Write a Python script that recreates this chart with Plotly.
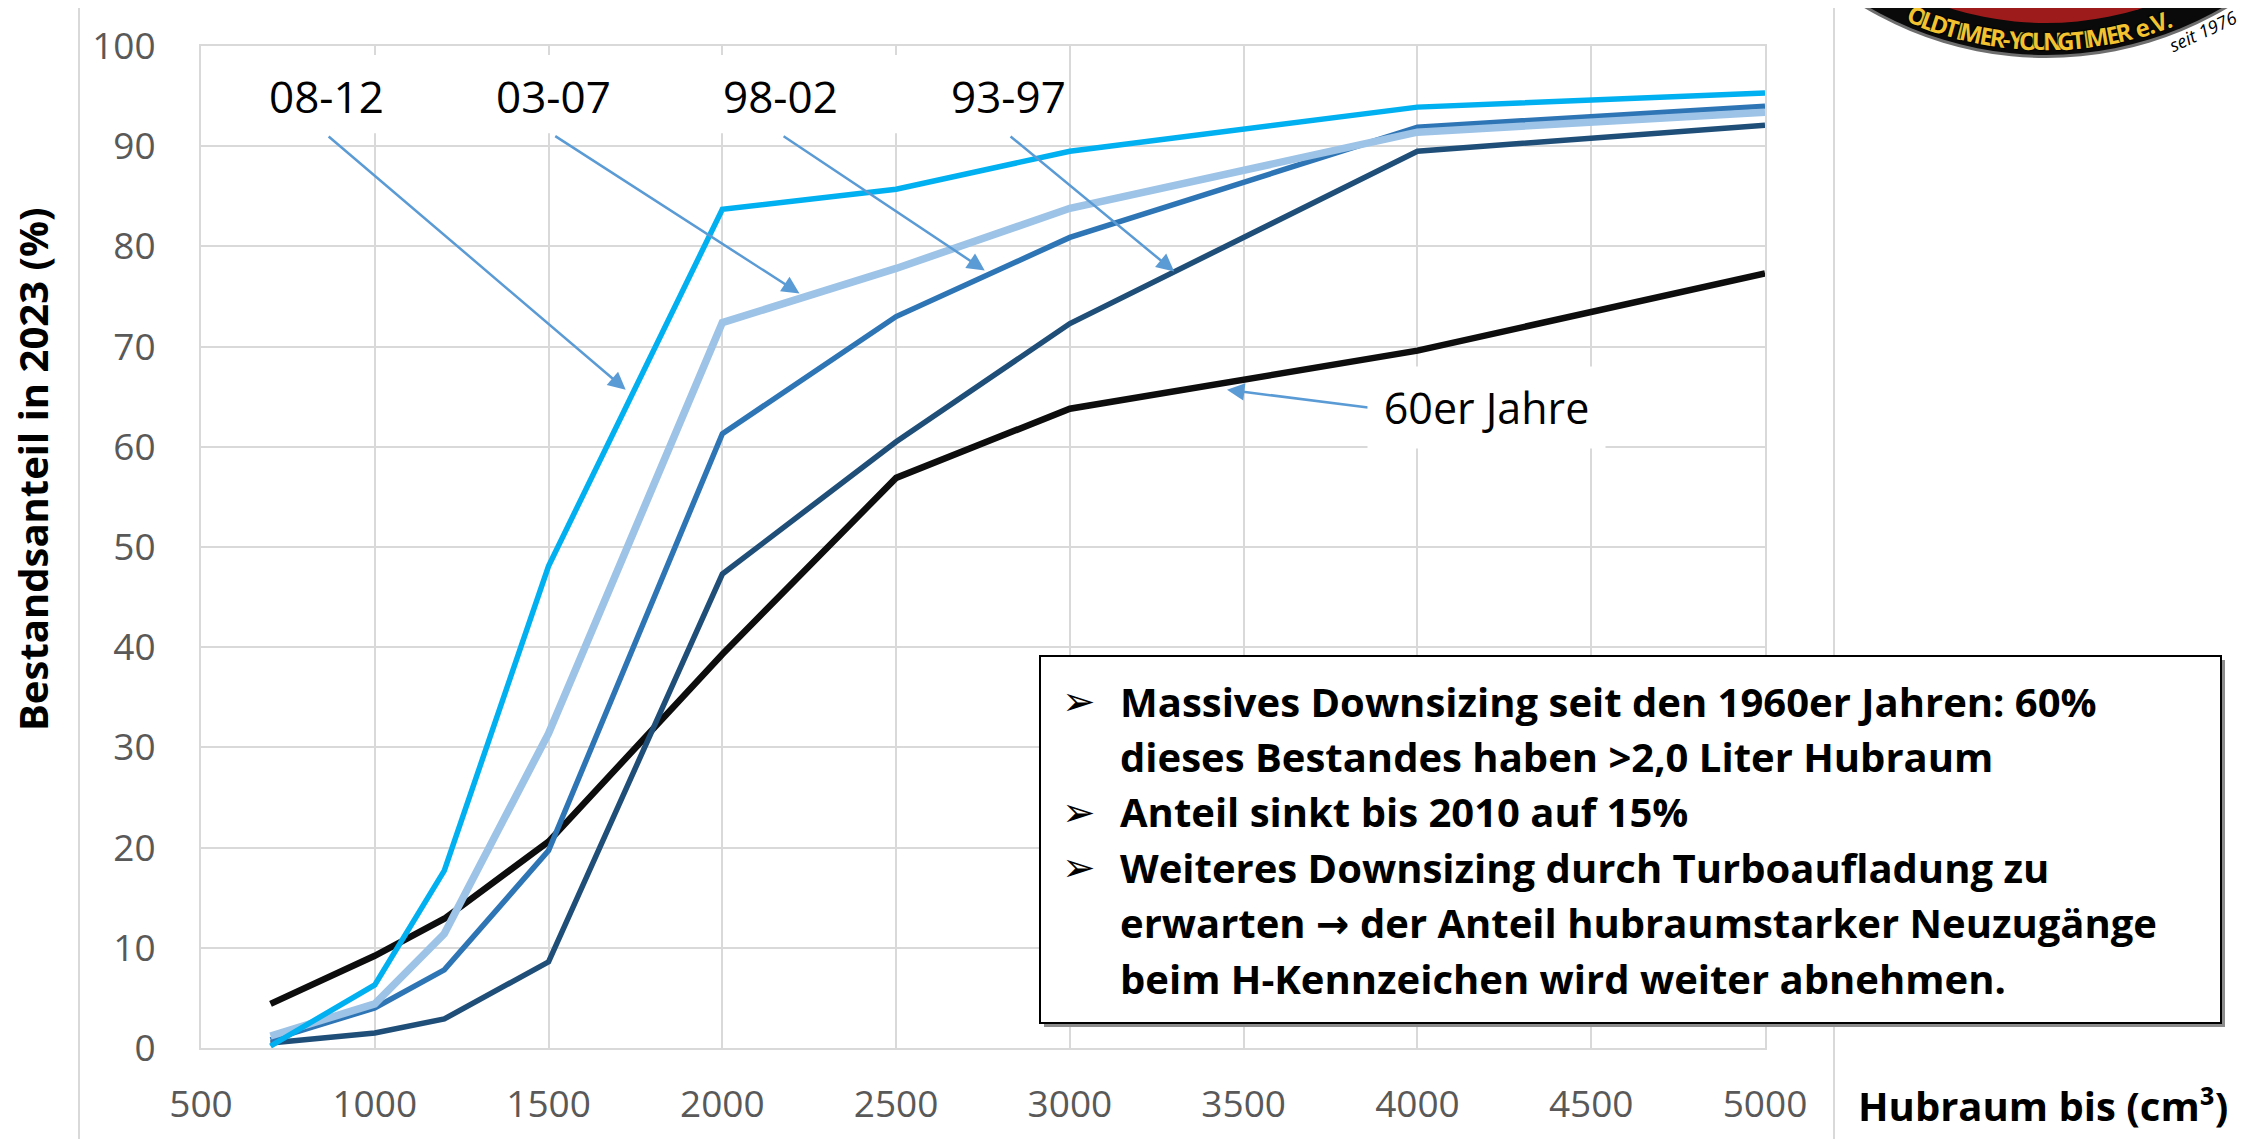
import math
import plotly.graph_objects as go

# Hubraum (cm3) and Bestandsanteil (%) per Baujahrgang
hubraum = [700, 1000, 1200, 1500, 2000, 2500, 3000, 4000, 5000]
jahre_60er = [4.4, 9.2, 12.9, 20.6, 39.3, 56.9, 63.8, 69.6, 77.3]
jahre_93_97 = [0.5, 1.5, 2.9, 8.6, 47.3, 60.5, 72.3, 89.5, 92.1]
jahre_98_02 = [0.8, 4.0, 7.8, 19.7, 61.3, 73.0, 80.9, 91.9, 94.0]
jahre_03_07 = [1.2, 4.4, 11.4, 31.4, 72.4, 77.8, 83.8, 91.4, 93.4]
jahre_08_12 = [0.2, 6.3, 17.7, 48.1, 83.7, 85.7, 89.5, 93.9, 95.3]

x_ticks = [500, 1000, 1500, 2000, 2500, 3000, 3500, 4000, 4500, 5000]
y_ticks = [0, 10, 20, 30, 40, 50, 60, 70, 80, 90, 100]

# label text, label position, arrow tail, arrow head (data coords)
labels = ["08-12", "03-07", "98-02", "93-97"]
label_x = [860, 1513, 2168, 2822]
tail_x = [863, 1515, 2172, 2825]
head_x = [1722, 2222, 2755, 3300]
head_y = [65.7, 75.3, 77.6, 77.5]

ARR = '<span style="font-family:DejaVu Sans">\u2192</span>'
box_lines = [
    "Massives Downsizing seit den 1960er Jahren: 60%",
    "dieses Bestandes haben >2,0 Liter Hubraum",
    "Anteil sinkt bis 2010 auf 15%",
    "Weiteres Downsizing durch Turboaufladung zu",
    "erwarten " + ARR + " der Anteil hubraumstarker Neuzugänge",
    "beim H-Kennzeichen wird weiter abnehmen.",
]
box_bullets = [True, False, True, True, False, False]

W, H = 2250, 1139
OFF = 8  # page margin of the html body
ML, MT = 201 - OFF, 46 - OFF
PW, PH = 1564, 1002
MR, MB = W - ML - PW, H - MT - PH


def px(p):
    return (p - OFF - ML) / PW


def py(p):
    return (MT + PH - (p - OFF)) / PH


FONT = "Open Sans"
ARROW = "#5B9BD5"

fig = go.Figure()

series = [
    (jahre_60er, "60er Jahre", "#0D0D0D", 6.5),
    (jahre_93_97, "93-97", "#1F4E79", 5.5),
    (jahre_98_02, "98-02", "#2E75B6", 5.5),
    (jahre_03_07, "03-07", "#9DC3E6", 7.5),
    (jahre_08_12, "08-12", "#00B0F0", 5.5),
]
for vals, name, col, lw in series:
    fig.add_trace(go.Scatter(x=hubraum, y=vals, mode="lines", name=name,
                             line=dict(color=col, width=lw)))

# outer chart border
fig.add_shape(type="rect", xref="paper", yref="paper",
              x0=px(79), x1=px(1834), y0=py(1160), y1=py(7),
              line=dict(color="#D9D9D9", width=2), layer="below")

# white area behind the top labels
fig.add_shape(type="rect", xref="x", yref="y", x0=520, x1=2900, y0=91.3, y1=99.1,
              fillcolor="white", line=dict(width=0), layer="between")

for i, lab in enumerate(labels):
    fig.add_annotation(x=label_x[i], y=95.0, text=lab, showarrow=False,
                       xanchor="center", yanchor="middle",
                       font=dict(family=FONT, size=44, color="black"))
    fig.add_annotation(x=head_x[i], y=head_y[i], ax=tail_x[i], ay=91.1,
                       xref="x", yref="y", axref="x", ayref="y", text="",
                       showarrow=True, arrowhead=2, arrowsize=1.4, arrowwidth=2.5,
                       arrowcolor=ARROW, standoff=0, startstandoff=0)

# 60er Jahre label
fig.add_annotation(x=3452, y=65.7, ax=3862, ay=63.9, xref="x", yref="y",
                   axref="x", ayref="y", text="", showarrow=True, arrowhead=2,
                   arrowsize=1.4, arrowwidth=2.5, arrowcolor=ARROW, standoff=0)
fig.add_annotation(x=4200, y=63.95, text="60er Jahre", showarrow=False,
                   xanchor="center", yanchor="middle",
                   bgcolor="white", width=235, height=79,
                   font=dict(family=FONT, size=43, color="black"))

# text box
fig.add_shape(type="rect", xref="paper", yref="paper",
              x0=px(1044), x1=px(2225), y0=py(1027), y1=py(660),
              fillcolor="#8C8C8C", line=dict(width=0))
fig.add_shape(type="rect", xref="paper", yref="paper",
              x0=px(1040), x1=px(2221), y0=py(1023), y1=py(656),
              fillcolor="white", line=dict(color="black", width=2))
for i, line in enumerate(box_lines):
    yc = py(701 + i * 55.4)
    if box_bullets[i]:
        fig.add_annotation(x=px(1079), y=yc, xref="paper", yref="paper",
                           text="\u27A2", showarrow=False, xanchor="center", yanchor="middle",
                           font=dict(family="DejaVu Sans", size=40, color="black"))
    fig.add_annotation(x=px(1118), y=yc, xref="paper", yref="paper",
                       text="<b>" + line + "</b>", showarrow=False,
                       xanchor="left", yanchor="middle",
                       font=dict(family=FONT, size=40, color="black"))

# axis titles
fig.add_annotation(x=px(32), y=py(469), xref="paper", yref="paper",
                   text="<b>Bestandsanteil in 2023 (%)</b>", textangle=-90,
                   xanchor="center", yanchor="middle",
                   showarrow=False, font=dict(family=FONT, size=40, color="black"))
fig.add_annotation(x=px(1856), y=py(1105), xref="paper", yref="paper",
                   text="<b>Hubraum bis (cm\u00b3)</b>", xanchor="left", yanchor="middle",
                   showarrow=False, font=dict(family=FONT, size=40, color="black"))

# club logo in the corner
cx, cy = 2046, -297
for r, col in [(355, "#6E6E6E"), (352, "#0A0A0A"), (320, "#9E1B1B"), (260, "#B52424")]:
    fig.add_shape(type="circle", xref="paper", yref="paper",
                  x0=px(cx - r), x1=px(cx + r), y0=py(cy + r), y1=py(cy - r),
                  fillcolor=col, line=dict(width=0))
ring_text = "OLDTIMER-YOUNGTIMER e.V."
widths = [0.3 if c in " .-I" else (0.85 if c == "M" else 0.62) for c in ring_text]
total = sum(widths)
a0, a1 = -23.4, 21.6
pos = 0.0
for c, w in zip(ring_text, widths):
    t = a0 + (a1 - a0) * (pos + w / 2) / total
    pos += w
    if c == " ":
        continue
    th = math.radians(t)
    xx = cx + 338 * math.sin(th)
    yy = cy + 338 * math.cos(th)
    fig.add_annotation(x=px(xx), y=py(yy), xref="paper", yref="paper", text="<b>" + c + "</b>",
                       showarrow=False, textangle=-t, xanchor="center", yanchor="middle",
                       font=dict(family="Liberation Sans Narrow, Open Sans", size=24,
                                 color="#F2C230",
                                 shadow="1px 1px 1px #000, -1px -1px 1px #000"))
fig.add_annotation(x=px(2203), y=py(31), xref="paper", yref="paper", text="seit 1976",
                   showarrow=False, textangle=-25, xanchor="center", yanchor="middle",
                   font=dict(family=FONT, size=18, color="black", style="italic"))

fig.update_layout(
    width=W, height=H,
    margin=dict(l=ML, r=MR, t=MT, b=MB, autoexpand=False),
    paper_bgcolor="white", plot_bgcolor="white",
    showlegend=False,
    font=dict(family=FONT),
    xaxis=dict(range=[500, 5000], tickvals=x_ticks, showgrid=True, automargin=False,
               gridcolor="#D9D9D9", gridwidth=2, zeroline=False,
               showline=True, linecolor="#D9D9D9", linewidth=2, mirror=True,
               ticks="", ticklabelstandoff=23,
               tickfont=dict(family=FONT, size=37, color="#595959")),
    yaxis=dict(range=[0, 100], tickvals=y_ticks, showgrid=True, automargin=False,
               gridcolor="#D9D9D9", gridwidth=2, zeroline=False,
               showline=True, linecolor="#D9D9D9", linewidth=2, mirror=True,
               ticks="", ticklabelstandoff=36,
               tickfont=dict(family=FONT, size=37, color="#595959")),
)

fig.write_html("out.html")
